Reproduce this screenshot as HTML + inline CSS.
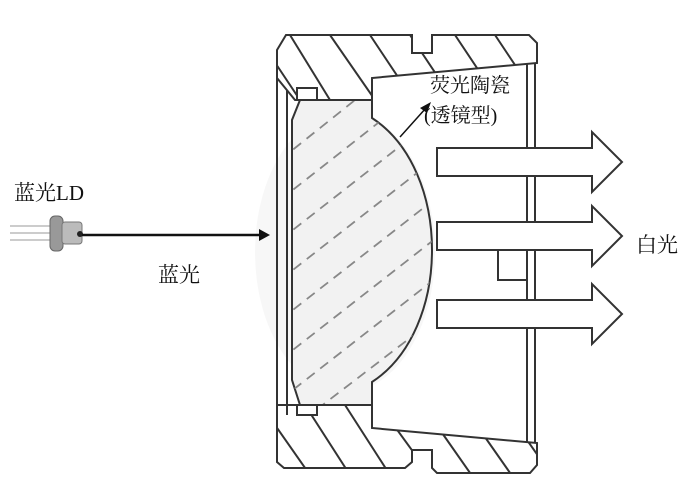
<!DOCTYPE html>
<html><head><meta charset="utf-8"><style>
body{margin:0;background:#fff;}
svg{display:block;}
text{font-family:"Liberation Serif","Noto Serif CJK SC",serif;fill:#111;}
</style></head><body>
<svg width="700" height="486" viewBox="0 0 700 486">
<defs>
<clipPath id="topwall"><path d="M277,50 L286,35 L412,35 L412,53 L432,53 L432,35 L529,35 L537,43 L537,63 L372,78 L372,100 L295,100 L277,78 Z"/></clipPath>
<clipPath id="botwall"><path d="M277,455 L277,405 L295,405 L372,405 L372,428 L537,443 L537,465 L530,473 L437,473 L432,468 L432,450 L412,450 L412,462 L405,468 L284,468 L277,462 Z"/></clipPath>
<clipPath id="lens"><path d="M300,100 L372,100 L372,118 C452,170 452,330 372,382 L372,405 L300,405 L292,380 L292,120 Z"/></clipPath>
</defs>
<ellipse cx="345" cy="252" rx="90" ry="140" fill="#f7f7f7"/>
<path d="M300,100 L372,100 L372,118 C452,170 452,330 372,382 L372,405 L300,405 L292,380 L292,120 Z" fill="#f2f2f2" stroke="#333" stroke-width="2"/>
<g clip-path="url(#lens)" stroke="#888" stroke-width="1.8" stroke-dasharray="10,7">
<line x1="280" y1="160" x2="380" y2="80"/><line x1="280" y1="200" x2="420" y2="90"/>
<line x1="280" y1="240" x2="440" y2="115"/><line x1="280" y1="280" x2="440" y2="155"/>
<line x1="280" y1="320" x2="440" y2="195"/><line x1="280" y1="360" x2="440" y2="235"/>
<line x1="280" y1="400" x2="440" y2="275"/><line x1="290" y1="430" x2="440" y2="315"/>
</g>
<g fill="#fff" stroke="#333" stroke-width="2">
<path d="M277,50 L286,35 L412,35 L412,53 L432,53 L432,35 L529,35 L537,43 L537,63 L372,78 L372,100 L295,100 L277,78 Z"/>
<path d="M277,455 L277,405 L372,405 L372,428 L537,443 L537,465 L530,473 L437,473 L432,468 L432,450 L412,450 L412,462 L405,468 L284,468 L277,462 Z"/>
</g>
<g clip-path="url(#topwall)" stroke="#333" stroke-width="2">
<line x1="290" y1="35" x2="330" y2="100"/><line x1="330" y1="35" x2="375" y2="100"/>
<line x1="370" y1="35" x2="410" y2="95"/><line x1="410" y1="35" x2="440" y2="80"/>
<line x1="455" y1="35" x2="485" y2="80"/><line x1="495" y1="35" x2="525" y2="80"/>
<line x1="270" y1="55" x2="300" y2="100"/>
</g>
<g clip-path="url(#botwall)" stroke="#333" stroke-width="2">
<line x1="275" y1="425" x2="310" y2="475"/><line x1="305" y1="405" x2="350" y2="475"/>
<line x1="345" y1="405" x2="390" y2="475"/><line x1="390" y1="420" x2="430" y2="475"/>
<line x1="440" y1="430" x2="475" y2="480"/><line x1="480" y1="430" x2="515" y2="480"/>
<line x1="520" y1="430" x2="555" y2="480"/>
</g>
<g fill="none" stroke="#333" stroke-width="2">
<line x1="277" y1="78" x2="277" y2="405"/>
<line x1="287" y1="90" x2="287" y2="415"/>
<rect x="297" y="88" width="20" height="12" fill="#fff"/>
<rect x="297" y="405" width="20" height="10" fill="#fff"/>
<line x1="527" y1="63" x2="527" y2="443"/>
<line x1="535" y1="63" x2="535" y2="443"/>
<polyline points="497,222 497,250"/>
<polyline points="498,250 498,280 527,280"/>
</g>
<g fill="#fff" stroke="#333" stroke-width="2">
<path d="M437,148 L592,148 L592,132 L622,162 L592,192 L592,176 L437,176 Z"/>
<path d="M437,222 L592,222 L592,206 L622,236 L592,266 L592,250 L437,250 Z"/>
<path d="M437,300 L592,300 L592,284 L622,314 L592,344 L592,328 L437,328 Z"/>
</g>
<line x1="400" y1="137" x2="426" y2="108" stroke="#111" stroke-width="1.5"/>
<path d="M431,102 L420,108 L427,113 Z" fill="#111"/>
<text x="430" y="92" font-size="20">荧光陶瓷</text>
<text x="424" y="122" font-size="20">(透镜型)</text>
<text x="14" y="200" font-size="21">蓝光LD</text>
<g stroke="#bbb" stroke-width="1.5"><line x1="10" y1="226" x2="55" y2="226"/><line x1="10" y1="233" x2="55" y2="233"/><line x1="10" y1="240" x2="55" y2="240"/></g>
<rect x="50" y="216" width="13" height="35" rx="5" fill="#999" stroke="#666"/>
<rect x="62" y="222" width="20" height="22" rx="3" fill="#bbb" stroke="#777"/>
<circle cx="80" cy="234" r="3" fill="#222"/>
<line x1="82" y1="235" x2="262" y2="235" stroke="#111" stroke-width="2.5"/>
<path d="M270,235 L259,229 L259,241 Z" fill="#111"/>
<text x="158" y="282" font-size="21">蓝光</text>
<text x="636" y="252" font-size="21">白光</text>
</svg>
</body></html>
